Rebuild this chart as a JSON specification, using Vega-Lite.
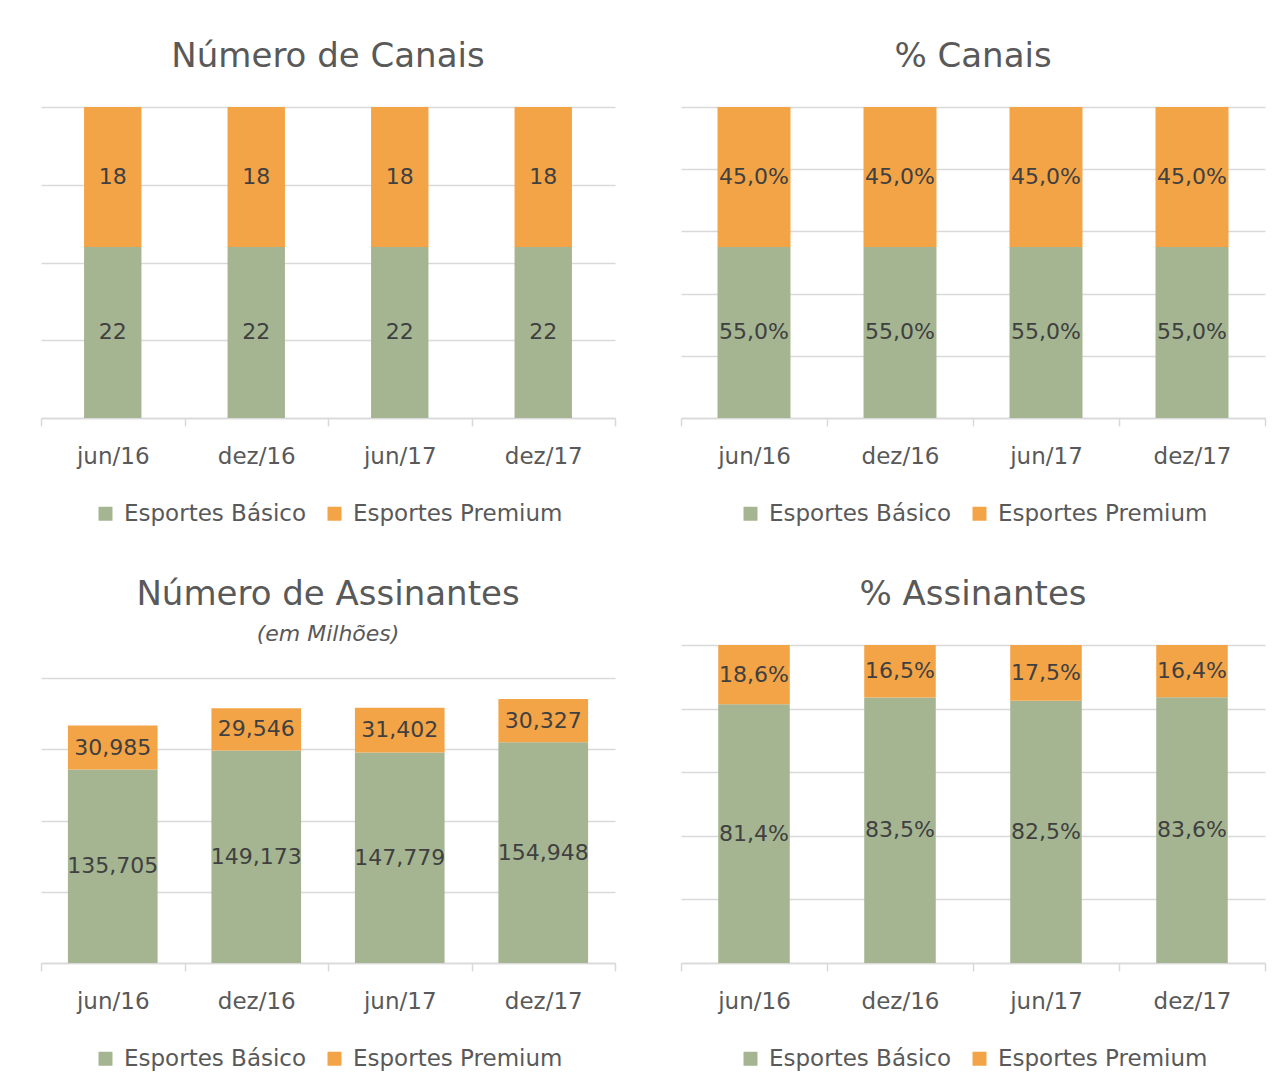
{
  "$schema": "https://vega.github.io/schema/vega-lite/v6.json",
  "background": "white",
  "padding": {"left": 40, "top": 40, "right": 17, "bottom": 5},
  "datasets": {
    "canais": [
      {"periodo": "jun/16", "serie": "Esportes Básico", "valor": 22, "label": "22"},
      {"periodo": "jun/16", "serie": "Esportes Premium", "valor": 18, "label": "18"},
      {"periodo": "dez/16", "serie": "Esportes Básico", "valor": 22, "label": "22"},
      {"periodo": "dez/16", "serie": "Esportes Premium", "valor": 18, "label": "18"},
      {"periodo": "jun/17", "serie": "Esportes Básico", "valor": 22, "label": "22"},
      {"periodo": "jun/17", "serie": "Esportes Premium", "valor": 18, "label": "18"},
      {"periodo": "dez/17", "serie": "Esportes Básico", "valor": 22, "label": "22"},
      {"periodo": "dez/17", "serie": "Esportes Premium", "valor": 18, "label": "18"}
    ],
    "pct_canais": [
      {"periodo": "jun/16", "serie": "Esportes Básico", "valor": 55, "label": "55,0%"},
      {"periodo": "jun/16", "serie": "Esportes Premium", "valor": 45, "label": "45,0%"},
      {"periodo": "dez/16", "serie": "Esportes Básico", "valor": 55, "label": "55,0%"},
      {"periodo": "dez/16", "serie": "Esportes Premium", "valor": 45, "label": "45,0%"},
      {"periodo": "jun/17", "serie": "Esportes Básico", "valor": 55, "label": "55,0%"},
      {"periodo": "jun/17", "serie": "Esportes Premium", "valor": 45, "label": "45,0%"},
      {"periodo": "dez/17", "serie": "Esportes Básico", "valor": 55, "label": "55,0%"},
      {"periodo": "dez/17", "serie": "Esportes Premium", "valor": 45, "label": "45,0%"}
    ],
    "assinantes": [
      {"periodo": "jun/16", "serie": "Esportes Básico", "valor": 135705, "label": "135,705"},
      {"periodo": "jun/16", "serie": "Esportes Premium", "valor": 30985, "label": "30,985"},
      {"periodo": "dez/16", "serie": "Esportes Básico", "valor": 149173, "label": "149,173"},
      {"periodo": "dez/16", "serie": "Esportes Premium", "valor": 29546, "label": "29,546"},
      {"periodo": "jun/17", "serie": "Esportes Básico", "valor": 147779, "label": "147,779"},
      {"periodo": "jun/17", "serie": "Esportes Premium", "valor": 31402, "label": "31,402"},
      {"periodo": "dez/17", "serie": "Esportes Básico", "valor": 154948, "label": "154,948"},
      {"periodo": "dez/17", "serie": "Esportes Premium", "valor": 30327, "label": "30,327"}
    ],
    "pct_assinantes": [
      {"periodo": "jun/16", "serie": "Esportes Básico", "valor": 81.4, "label": "81,4%"},
      {"periodo": "jun/16", "serie": "Esportes Premium", "valor": 18.6, "label": "18,6%"},
      {"periodo": "dez/16", "serie": "Esportes Básico", "valor": 83.5, "label": "83,5%"},
      {"periodo": "dez/16", "serie": "Esportes Premium", "valor": 16.5, "label": "16,5%"},
      {"periodo": "jun/17", "serie": "Esportes Básico", "valor": 82.5, "label": "82,5%"},
      {"periodo": "jun/17", "serie": "Esportes Premium", "valor": 17.5, "label": "17,5%"},
      {"periodo": "dez/17", "serie": "Esportes Básico", "valor": 83.6, "label": "83,6%"},
      {"periodo": "dez/17", "serie": "Esportes Premium", "valor": 16.4, "label": "16,4%"}
    ]
  },
  "config": {
    "font": "DejaVu Sans",
    "view": {"stroke": null},
    "title": {"fontSize": 34, "fontWeight": "normal", "color": "#595959", "anchor": "middle", "offset": 33, "subtitleFontSize": 22, "subtitleFontStyle": "italic", "subtitleColor": "#595959", "subtitlePadding": 12},
    "axisX": {"labelFontSize": 23, "labelColor": "#595959", "labelAngle": 0, "tickColor": "#d9d9d9", "tickSize": 8, "tickWidth": 1.5, "domainColor": "#d9d9d9", "domainWidth": 1.5, "labelPadding": 19, "grid": false},
    "axisY": {"gridColor": "#d9d9d9", "gridWidth": 1.5, "labels": false, "ticks": false, "domain": false},
    "legend": {"orient": "bottom", "direction": "horizontal", "symbolType": "square", "symbolSize": 196, "symbolStrokeWidth": 0, "labelFontSize": 23, "labelColor": "#595959", "labelLimit": 400, "columnPadding": 16, "labelOffset": 7, "offset": 34, "title": null, "layout": {"bottom": {"anchor": "middle"}}},
    "text": {"fontSize": 22, "color": "#404040", "baseline": "middle", "align": "center"}
  },
  "resolve": {"scale": {"color": "independent"}, "legend": {"color": "independent"}},
  "spacing": 52,
  "vconcat": [
    {
      "spacing": 64,
      "resolve": {"scale": {"color": "independent"}, "legend": {"color": "independent"}},
      "hconcat": [
        {
          "width": 574, "height": 311,
          "title": {"text": "Número de Canais"},
          "data": {"name": "canais"},
          "transform": [
            {"stack": "valor", "groupby": ["periodo"], "sort": [{"field": "serie", "order": "ascending"}], "as": ["v0", "v1"]},
            {"calculate": "(datum.v0 + datum.v1) / 2", "as": "vmid"}
          ],
          "encoding": {
            "x": {"field": "periodo", "type": "nominal", "sort": ["jun/16", "dez/16", "jun/17", "dez/17"], "scale": {"paddingInner": 0, "paddingOuter": 0}, "axis": {"title": null, "tickBand": "extent"}}
          },
          "layer": [
            {
              "mark": {"type": "bar", "width": {"band": 0.4}},
              "encoding": {
                "y": {"field": "v0", "type": "quantitative", "scale": {"domain": [0, 40], "nice": false}, "axis": {"title": null, "values": [0, 5, 10, 15, 20, 25, 30, 35, 40]}},
                "y2": {"field": "v1"},
                "color": {"field": "serie", "type": "nominal", "scale": {"domain": ["Esportes Básico", "Esportes Premium"], "range": ["#A5B592", "#F3A447"]}, "legend": {"title": null}}
              }
            },
            {
              "mark": {"type": "text"},
              "encoding": {"y": {"field": "vmid", "type": "quantitative"}, "text": {"field": "label"}}
            }
          ]
        },
        {
          "width": 584, "height": 311,
          "title": {"text": "% Canais"},
          "data": {"name": "pct_canais"},
          "transform": [
            {"stack": "valor", "groupby": ["periodo"], "sort": [{"field": "serie", "order": "ascending"}], "as": ["v0", "v1"]},
            {"calculate": "(datum.v0 + datum.v1) / 2", "as": "vmid"}
          ],
          "encoding": {
            "x": {"field": "periodo", "type": "nominal", "sort": ["jun/16", "dez/16", "jun/17", "dez/17"], "scale": {"paddingInner": 0, "paddingOuter": 0}, "axis": {"title": null, "tickBand": "extent"}}
          },
          "layer": [
            {
              "mark": {"type": "bar", "width": {"band": 0.5}},
              "encoding": {
                "y": {"field": "v0", "type": "quantitative", "scale": {"domain": [0, 100], "nice": false}, "axis": {"title": null, "values": [0, 20, 40, 60, 80, 100]}},
                "y2": {"field": "v1"},
                "color": {"field": "serie", "type": "nominal", "scale": {"domain": ["Esportes Básico", "Esportes Premium"], "range": ["#A5B592", "#F3A447"]}, "legend": {"title": null}}
              }
            },
            {
              "mark": {"type": "text"},
              "encoding": {"y": {"field": "vmid", "type": "quantitative"}, "text": {"field": "label"}}
            }
          ]
        }
      ]
    },
    {
      "spacing": 64,
      "resolve": {"scale": {"color": "independent"}, "legend": {"color": "independent"}},
      "hconcat": [
        {
          "width": 574, "height": 318,
          "title": {"text": "Número de Assinantes", "subtitle": "(em Milhões)", "offset": 0},
          "data": {"name": "assinantes"},
          "transform": [
            {"stack": "valor", "groupby": ["periodo"], "sort": [{"field": "serie", "order": "ascending"}], "as": ["v0", "v1"]},
            {"calculate": "(datum.v0 + datum.v1) / 2", "as": "vmid"}
          ],
          "encoding": {
            "x": {"field": "periodo", "type": "nominal", "sort": ["jun/16", "dez/16", "jun/17", "dez/17"], "scale": {"paddingInner": 0, "paddingOuter": 0}, "axis": {"title": null, "tickBand": "extent"}}
          },
          "layer": [
            {
              "mark": {"type": "bar", "width": {"band": 0.625}},
              "encoding": {
                "y": {"field": "v0", "type": "quantitative", "scale": {"domain": [0, 223158], "nice": false}, "axis": {"title": null, "values": [0, 50000, 100000, 150000, 200000]}},
                "y2": {"field": "v1"},
                "color": {"field": "serie", "type": "nominal", "scale": {"domain": ["Esportes Básico", "Esportes Premium"], "range": ["#A5B592", "#F3A447"]}, "legend": {"title": null}}
              }
            },
            {
              "mark": {"type": "text"},
              "encoding": {"y": {"field": "vmid", "type": "quantitative"}, "text": {"field": "label"}}
            }
          ]
        },
        {
          "width": 584, "height": 318,
          "title": {"text": "% Assinantes"},
          "data": {"name": "pct_assinantes"},
          "transform": [
            {"stack": "valor", "groupby": ["periodo"], "sort": [{"field": "serie", "order": "ascending"}], "as": ["v0", "v1"]},
            {"calculate": "(datum.v0 + datum.v1) / 2", "as": "vmid"}
          ],
          "encoding": {
            "x": {"field": "periodo", "type": "nominal", "sort": ["jun/16", "dez/16", "jun/17", "dez/17"], "scale": {"paddingInner": 0, "paddingOuter": 0}, "axis": {"title": null, "tickBand": "extent"}}
          },
          "layer": [
            {
              "mark": {"type": "bar", "width": {"band": 0.49}},
              "encoding": {
                "y": {"field": "v0", "type": "quantitative", "scale": {"domain": [0, 100], "nice": false}, "axis": {"title": null, "values": [0, 20, 40, 60, 80, 100]}},
                "y2": {"field": "v1"},
                "color": {"field": "serie", "type": "nominal", "scale": {"domain": ["Esportes Básico", "Esportes Premium"], "range": ["#A5B592", "#F3A447"]}, "legend": {"title": null}}
              }
            },
            {
              "mark": {"type": "text"},
              "encoding": {"y": {"field": "vmid", "type": "quantitative"}, "text": {"field": "label"}}
            }
          ]
        }
      ]
    }
  ]
}
